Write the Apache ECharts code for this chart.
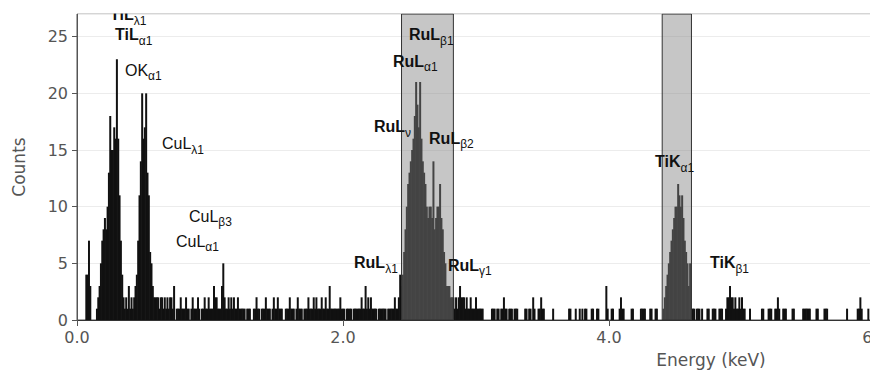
<!DOCTYPE html>
<html><head><meta charset="utf-8">
<script src="https://cdn.jsdelivr.net/npm/echarts@6/dist/echarts.min.js"></script>
<style>html,body{margin:0;padding:0;background:#fff}#c{width:870px;height:374px}</style>
</head><body><div id="c"></div>
<script>
// channel width of the spectrum, keV
const channelWidth = 0.01;
// counts per channel, 0.00 .. 5.99 keV (10 channels per row = 0.1 keV)
const counts = [
 0,0,0,0,0,0,0,4,4,7,
 3,0,0,0,0,1,2,3,5,7,
 8,9,8,10,13,18,15,15,17,16,
 23,16,11,7,4,2,1,2,1,3,
 1,2,1,2,3,4,7,11,14,20,
 16,17,20,13,11,6,5,3,2,2,
 2,2,1,2,2,1,2,1,2,1,
 2,2,1,3,0,1,1,1,2,1,
 1,1,2,1,1,0,1,2,1,1,
 1,2,1,0,1,1,2,1,1,2,
 1,1,1,3,2,2,1,1,1,3,
 5,2,1,1,2,1,2,1,2,1,
 1,2,1,1,1,1,1,0,1,1,
 1,0,0,1,1,2,1,1,0,1,
 1,1,2,1,1,1,0,1,2,1,
 1,2,1,1,1,0,0,1,1,1,
 2,1,1,1,0,1,2,1,1,1,
 0,1,1,1,2,1,1,1,2,1,
 2,1,1,1,2,1,1,2,1,1,
 3,1,1,1,1,1,1,1,2,1,
 1,1,0,1,1,1,1,0,1,1,
 1,1,1,1,2,1,1,3,1,2,
 1,2,1,1,1,1,0,1,1,1,
 1,1,1,0,1,1,1,1,1,2,
 1,1,2,4,3,4,6,8,10,12,
 13,14,15,16,18,21,19,17,21,16,
 14,13,12,10,9,10,10,9,14,8,
 9,10,10,12,9,8,6,5,3,3,
 3,2,2,2,1,2,1,2,3,2,
 2,2,1,2,1,1,2,1,1,1,
 2,1,1,1,1,1,0,0,0,0,
 0,0,1,1,1,0,1,1,0,1,
 1,2,1,1,0,1,1,1,0,1,
 1,1,0,0,0,0,0,1,1,0,
 1,1,0,2,1,0,0,1,1,2,
 1,1,0,0,0,0,0,0,1,0,
 0,0,0,0,0,0,0,0,0,0,
 1,1,0,0,0,1,0,0,1,0,
 1,0,1,1,0,0,0,1,1,0,
 0,1,1,0,0,0,0,0,3,1,
 0,0,1,1,0,0,0,0,1,2,
 1,1,0,0,0,0,0,1,1,0,
 0,0,0,0,1,1,1,1,0,0,
 0,1,1,0,0,1,1,0,0,0,
 0,1,2,3,4,5,6,7,8,9,
 10,10,12,11,10,11,9,7,6,5,
 3,5,1,1,1,0,1,1,1,0,
 1,0,0,0,1,1,0,0,1,1,
 1,0,0,1,1,1,0,0,1,2,
 2,3,2,2,1,2,1,1,2,1,
 2,1,1,0,0,0,1,0,0,0,
 0,0,0,0,0,1,1,0,0,0,
 1,1,1,0,0,1,1,2,1,0,
 0,1,1,1,0,0,0,0,1,1,
 0,0,0,0,0,0,1,1,1,1,
 1,1,0,0,0,0,1,1,0,0,
 0,0,1,1,1,0,0,0,0,0,
 0,0,0,0,0,0,0,0,0,1,
 0,0,0,0,0,0,0,1,1,2,
 1,0,0,0,0,1,0,0,0,0
];
// shaded regions of interest (keV)
const bandStart = [2.44, 4.40];
const bandEnd = [2.83, 4.62];
// peak labels
const peakMain = ['TiL','TiL','OK','CuL','CuL','CuL','RuL','RuL','RuL','RuL','RuL','RuL','TiK','TiK'];
const peakSub = ['λ1','α1','α1','λ1','β3','α1','β1','α1','ν','β2','λ1','γ1','α1','β1'];
const peakEnergy = [0.248,0.286,0.361,0.639,0.842,0.744,2.496,2.376,2.233,2.647,2.083,2.789,4.346,4.759];
const peakCount = [26.6,24.8,21.7,15.2,8.8,6.6,24.8,22.5,16.7,15.7,4.7,4.5,13.6,4.7];
const peakBold = [true,true,false,false,false,false,true,true,true,true,true,true,true,true];

const xMin = 0, xMax = 6, xStep = 2;
const yMin = 0, yMax = 27, yStep = 5;

const spectrum = counts.map((c, i) => [+(i * channelWidth).toFixed(2), c]);
const axisFont = 'DejaVu Sans, Verdana, sans-serif';
const labFont = 'Liberation Sans, Arial, sans-serif';

const chart = echarts.init(document.getElementById('c'), null, {renderer: 'svg'});
chart.setOption({
  animation: false,
  backgroundColor: '#fff',
  grid: {left: 77, top: 14, width: 798, height: 306, outerBoundsMode: 'none', containLabel: false,
         show: true, borderColor: '#555', borderWidth: 1, backgroundColor: 'transparent'},
  xAxis: {
    type: 'value', min: xMin, max: xMax, interval: xStep,
    axisLine: {show: true, onZero: false, lineStyle: {color: '#333', width: 1}},
    axisTick: {show: true, length: 6, lineStyle: {color: '#555'}},
    axisLabel: {formatter: v => v.toFixed(1), color: '#555', fontSize: 16, fontFamily: axisFont, margin: 9},
    splitLine: {show: false},
    name: 'Energy (keV)', nameLocation: 'middle', nameGap: 31,
    nameTextStyle: {color: '#555', fontSize: 17, fontFamily: axisFont, padding: [0, 0, 0, 470]}
  },
  yAxis: {
    type: 'value', min: yMin, max: yMax, interval: yStep,
    axisLine: {show: true, lineStyle: {color: '#555', width: 1}},
    axisTick: {show: true, length: 5, lineStyle: {color: '#555'}},
    axisLabel: {color: '#555', fontSize: 16, fontFamily: axisFont, margin: 9, showMaxLabel: false},
    splitLine: {show: true, lineStyle: {color: '#ececec', width: 1}},
    name: 'Counts', nameLocation: 'middle', nameGap: 50,
    nameTextStyle: {color: '#555', fontSize: 17, fontFamily: axisFont}
  },
  series: [
    {
      type: 'bar', data: spectrum, barWidth: 2, z: 2,
      itemStyle: {color: '#111'}, silent: true
    },
    {
      type: 'line', data: [], z: 3, silent: true,
      markArea: {
        silent: true, z: 10,
        itemStyle: {color: 'rgba(129,129,129,0.454)', borderColor: '#333', borderWidth: 1},
        data: bandStart.map((s, i) => [{xAxis: s, yAxis: yMin}, {xAxis: bandEnd[i], yAxis: yMax}])
      },
      markPoint: {
        silent: true, z: 20, symbol: 'circle', symbolSize: 0,
        label: {
          show: true, position: 'right', distance: 0,
          rich: {
            b: {fontFamily: labFont, fontSize: 16, fontWeight: 'bold', color: '#111', lineHeight: 16, padding: [0, 0, 4, 0], verticalAlign: 'bottom'},
            n: {fontFamily: labFont, fontSize: 16, color: '#111', lineHeight: 16, padding: [0, 0, 4, 0], verticalAlign: 'bottom'},
            s: {fontFamily: labFont, fontSize: 12, color: '#111', lineHeight: 12, verticalAlign: 'bottom'}
          }
        },
        data: peakMain.map((m, i) => ({
          coord: [peakEnergy[i], peakCount[i]],
          label: {formatter: '{' + (peakBold[i] ? 'b' : 'n') + '|' + m + '}{s|' + peakSub[i] + '}'}
        }))
      }
    }
  ],
  graphic: [
    {type: 'rect', z: 100, silent: true, shape: {x: 77, y: 0, width: 800, height: 13.5}, style: {fill: '#fff'}}
  ]
});
</script></body></html>
